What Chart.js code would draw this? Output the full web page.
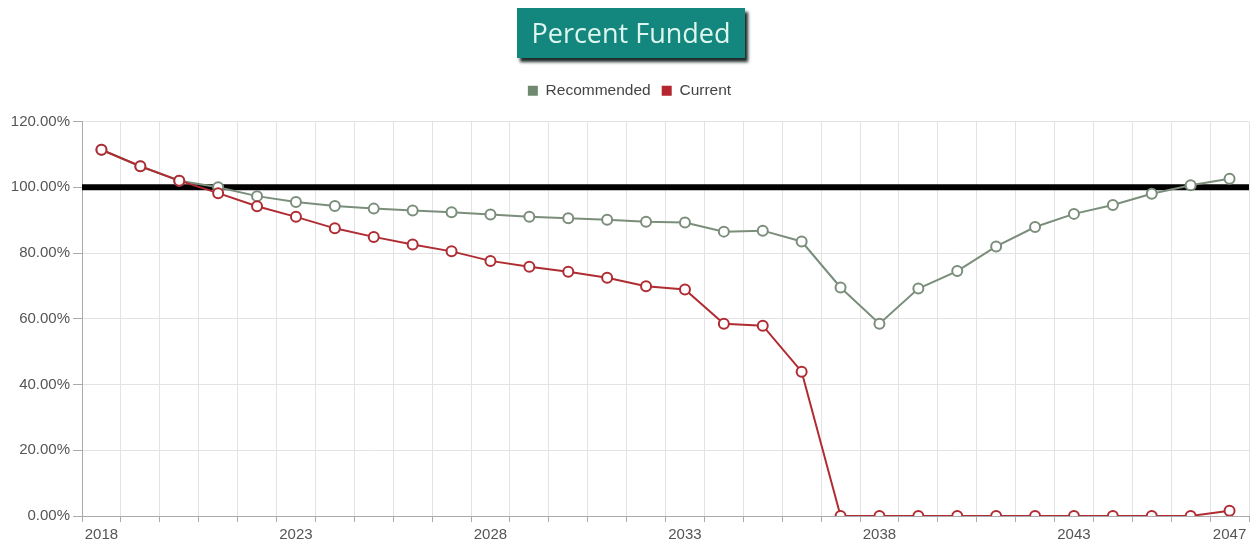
<!DOCTYPE html>
<html>
<head>
<meta charset="utf-8">
<title>Percent Funded</title>
<script src="https://cdn.jsdelivr.net/npm/chart.js@4/dist/chart.umd.min.js"></script>
<style>
  html, body { margin: 0; padding: 0; background: #fff; }
  #wrap { position: relative; width: 1258px; height: 544px; }
  #chart { position: absolute; left: 0; top: 0; }
  #title {
    position: absolute; left: 517px; top: 8px; width: 228px; height: 50px;
    background: #13877d; color: #def5ef;
    font-family: "Open Sans", sans-serif; font-size: 27px;
    line-height: 50px; text-align: center;
    box-shadow: 3px 4px 3px #1e2b29;
  }
</style>
</head>
<body>
<div id="wrap">
  <canvas id="chart" width="1258" height="544"></canvas>
  <div id="title">Percent Funded</div>
</div>
<script>
// Fiscal years on the x axis
const years = ['2018','2019','2020','2021','2022','2023','2024','2025','2026','2027',
               '2028','2029','2030','2031','2032','2033','2034','2035','2036','2037',
               '2038','2039','2040','2041','2042','2043','2044','2045','2046','2047'];

// Percent funded under the recommended funding plan
const recommended = [111.4, 106.4, 102.0, 100.0, 97.3, 95.5, 94.3, 93.5, 92.9, 92.4,
                     91.7, 91.0, 90.6, 90.1, 89.5, 89.3, 86.5, 86.8, 83.5, 69.5,
                     58.5, 69.2, 74.5, 82.0, 87.9, 91.9, 94.6, 98.0, 100.6, 102.6];

// Percent funded at the current contribution level
const current = [111.4, 106.4, 102.0, 98.2, 94.2, 91.0, 87.5, 84.9, 82.6, 80.5,
                 77.6, 75.8, 74.3, 72.5, 69.9, 68.9, 58.5, 57.9, 43.9, 0,
                 0, 0, 0, 0, 0, 0, 0, 0, 0, 1.6];

// Fully funded reference level
const fullyFunded = 100;

// Years that carry a visible label
const labelledYears = ['2018','2023','2028','2033','2038','2043','2047'];

// Thick black rule at the fully funded level, drawn under the series
const fullyFundedLine = {
  id: 'fullyFundedLine',
  beforeDatasetsDraw(chart) {
    const { ctx, chartArea, scales } = chart;
    const y = scales.y.getPixelForValue(fullyFunded);
    ctx.save();
    ctx.strokeStyle = '#000';
    ctx.lineWidth = 6;
    ctx.beginPath();
    ctx.moveTo(chartArea.left, y);
    ctx.lineTo(chartArea.right, y);
    ctx.stroke();
    ctx.restore();
  }
};

// Extra room between the legend and the plot, and a small nudge to the right
const legendGap = {
  id: 'legendGap',
  afterInit(chart) {
    const legend = chart.legend;
    const fit = legend.fit;
    legend.fit = function () {
      fit.call(this);
      this.height += 13;
    };
  },
  afterLayout(chart) {
    chart.legend.left += 5;
    chart.legend.right += 5;
  }
};

Chart.defaults.font.family = '"Liberation Sans", Arial, sans-serif';
Chart.defaults.font.size = 15;
Chart.defaults.color = '#555';

new Chart(document.getElementById('chart'), {
  type: 'line',
  data: {
    labels: years,
    datasets: [
      {
        label: 'Recommended',
        data: recommended,
        order: 1,
        borderColor: '#7b8e7b',
        backgroundColor: '#6f8a70',
        pointBackgroundColor: '#fff',
        pointBorderColor: '#7b8e7b',
        borderWidth: 2,
        pointRadius: 5,
        pointBorderWidth: 2,
        tension: 0
      },
      {
        label: 'Current',
        data: current,
        order: 0,
        borderColor: '#b02c33',
        backgroundColor: '#b5262e',
        pointBackgroundColor: '#fff',
        pointBorderColor: '#b02c33',
        borderWidth: 2,
        pointRadius: 5,
        pointBorderWidth: 2,
        tension: 0
      }
    ]
  },
  options: {
    responsive: false,
    animation: false,
    layout: { padding: { top: 72, right: 9, left: 0, bottom: 0 } },
    plugins: {
      legend: {
        position: 'top',
        labels: {
          boxWidth: 10,
          boxHeight: 10,
          padding: 11,
          color: '#444',
          font: { size: 15.5 },
          sort: (a, b) => a.datasetIndex - b.datasetIndex,
          generateLabels(chart) {
            return chart.data.datasets.map((ds, i) => ({
              text: ds.label,
              fillStyle: ds.backgroundColor,
              strokeStyle: ds.backgroundColor,
              lineWidth: 0,
              hidden: !chart.isDatasetVisible(i),
              datasetIndex: i,
              fontColor: '#444'
            }));
          }
        }
      },
      tooltip: { enabled: false }
    },
    scales: {
      x: {
        offset: true,
        grid: { offset: true, color: '#e3e3e3', tickLength: 6, tickColor: '#aaa' },
        border: { color: '#aaa', width: 1 },
        ticks: {
          autoSkip: false,
          maxRotation: 0,
          color: '#555',
          padding: 4,
          callback(value, index) {
            const y = years[index];
            return labelledYears.includes(y) ? y : '';
          }
        },
        afterFit(scale) { scale.height = 28; }
      },
      y: {
        min: 0,
        max: 120,
        grid: { color: '#e3e3e3', tickLength: 9, tickColor: '#aaa' },
        border: { color: '#aaa', width: 1 },
        ticks: {
          stepSize: 20,
          color: '#555',
          padding: 3,
          callback: (v) => v.toFixed(2) + '%'
        },
        afterFit(scale) { scale.width = 82; }
      }
    }
  },
  plugins: [fullyFundedLine, legendGap]
});
</script>
</body>
</html>
